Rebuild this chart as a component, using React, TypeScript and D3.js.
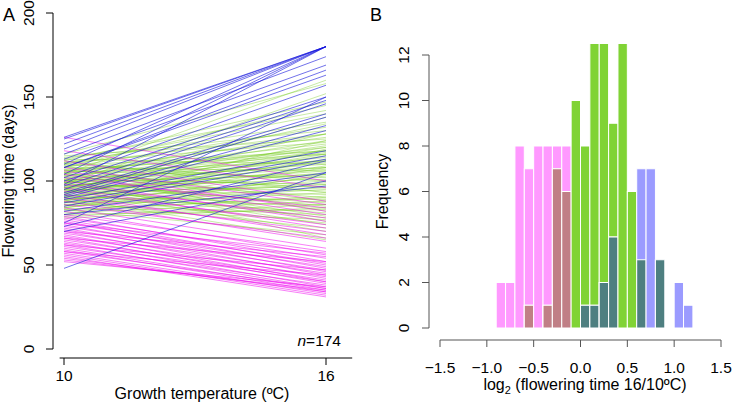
import * as d3 from "d3";

// Panel A: flowering time (days) at 10ºC and 16ºC, one pair per accession
const greenLines: [number, number][] = [
  [116, 158], [98, 152], [112, 147], [104, 160], [110, 140], [92, 138], [108, 145], [101, 134], [114, 130], [95, 128],
  [106, 126], [88, 124], [111, 123], [99, 121], [103, 120], [85, 119], [109, 118], [96, 117], [107, 116], [93, 115],
  [100, 114], [90, 113], [105, 112], [97, 111], [113, 110], [87, 109], [102, 108], [94, 107], [108, 106], [91, 105],
  [99, 104], [84, 103], [106, 102], [96, 101], [110, 100], [89, 99], [101, 98], [93, 97], [104, 96], [86, 95],
  [98, 94], [112, 93], [95, 92], [82, 91], [103, 90], [90, 89], [107, 88], [97, 87], [88, 86], [100, 85],
  [94, 84], [80, 83], [109, 82], [92, 81], [86, 80], [102, 79], [96, 78], [84, 77], [105, 76], [91, 75],
  [99, 74], [88, 72], [95, 70], [83, 68], [101, 66], [90, 65], [115, 125], [111, 135], [106, 118], [100, 112],
  [97, 108], [94, 104], [91, 100], [89, 98], [87, 96], [85, 93], [83, 90], [81, 88], [79, 86], [78, 84],
  [113, 142], [108, 132], [104, 128], [100, 124], [96, 120], [92, 116], [88, 112], [84, 108], [80, 104], [103, 116],
  [99, 110], [95, 106], [105, 122], [110, 128], [98, 118],
];

const pinkLines: [number, number][] = [
  [126, 100], [118, 96], [112, 88], [108, 86], [106, 82], [104, 80], [102, 84], [100, 76], [98, 78], [96, 72],
  [94, 74], [92, 68], [90, 70], [88, 64], [86, 66], [84, 60], [82, 56], [80, 58], [79, 52], [78, 54],
  [77, 50], [76, 48], [75, 51], [74, 46], [73, 49], [72, 44], [71, 47], [70, 42], [69, 45], [68, 40],
  [67, 43], [66, 39], [65, 41], [64, 37], [63, 40], [62, 36], [61, 38], [60, 35], [59, 34], [58, 36],
  [57, 33], [56, 32], [55, 31], [54, 34], [53, 35], [52, 37], [66, 52], [70, 55], [62, 47], [58, 44], [75, 57],
];

const blueLines: [number, number][] = [
  [126, 180], [125, 180], [122, 180], [119, 180], [116, 174], [113, 169], [110, 180], [108, 166], [108, 163], [104, 180],
  [102, 157], [100, 150], [98, 180], [97, 148], [95, 146], [93, 140], [92, 138], [91, 133], [90, 130], [89, 118],
  [87, 115], [85, 113], [82, 105], [80, 97], [75, 150], [73, 112], [70, 100], [48, 105],
];

const temps = [10, 16];
const yTicksA = [0, 50, 100, 150, 200];

// Panel B: histogram of log2(16/10ºC) per group
const binEdges = [-0.9, -0.8, -0.7, -0.6, -0.5, -0.4, -0.3, -0.2, -0.1, 0, 0.1, 0.2, 0.3, 0.4, 0.5, 0.6, 0.7, 0.8, 0.9, 1.0, 1.1, 1.2];
const pinkCounts = [2, 2, 8, 7, 8, 8, 8, 8, 0, 0, 0, 0, 0, 0, 0, 0, 0, 0, 0, 0, 0];
const greenCounts = [0, 0, 0, 1, 0, 1, 7, 6, 10, 8, 14, 13, 9, 14, 6, 3, 0, 3, 0, 0, 0];
const blueCounts = [0, 0, 0, 0, 0, 0, 0, 0, 0, 1, 1, 2, 4, 0, 0, 7, 7, 3, 0, 2, 1];
const xTicksB = [-1.5, -1.0, -0.5, 0.0, 0.5, 1.0, 1.5];
const yTicksB = [0, 2, 4, 6, 8, 10, 12];

const FONT = "'Liberation Sans', Arial, Helvetica, sans-serif";
const TICK = 15.5;
const TITLE = 16;

export default function App() {
  // ---- Panel A scales
  const xA = d3.scaleLinear().domain([10, 16]).range([64, 326]);
  const yA = d3.scaleLinear().domain([0, 200]).range([349, 13]);
  const axisXA = 358;
  const axisYA = 53;

  const line = (d: [number, number]) =>
    d3.line<number>().x((_, i) => xA(temps[i])).y((v) => v)(d.map((v) => yA(v)))!;

  // ---- Panel B scales
  const xB = d3.scaleLinear().domain([-1.5, 1.5]).range([440, 721]);
  const yB = d3.scaleLinear().domain([0, 12]).range([328, 55]);
  const axisXB = 340;
  const axisYB = 429;
  const yTop = yB(12.48);

  const pink = "#ff99ff";
  const green = "#80d335";
  const blue = "#9b9bff";
  const brown = "#c07f86";
  const teal = "#4e7f80";

  const bars: { x0: number; x1: number; h: number; fill: string }[] = [];
  binEdges.slice(0, -1).forEach((e, i) => {
    const x0 = e;
    const x1 = binEdges[i + 1];
    if (pinkCounts[i]) bars.push({ x0, x1, h: pinkCounts[i], fill: pink });
    if (greenCounts[i]) bars.push({ x0, x1, h: greenCounts[i], fill: green });
    if (blueCounts[i]) bars.push({ x0, x1, h: blueCounts[i], fill: blue });
    const pg = Math.min(pinkCounts[i], greenCounts[i]);
    if (pg) bars.push({ x0, x1, h: pg, fill: brown });
    const gb = Math.min(greenCounts[i], blueCounts[i]);
    if (gb) bars.push({ x0, x1, h: gb, fill: teal });
  });

  return (
    <svg
      width={734}
      height={404}
      style={{ position: "absolute", left: 0, top: 0, background: "#fff" }}
      fontFamily={FONT}
    >
      <defs>
        <clipPath id="clipB">
          <rect x={430} y={yTop} width={300} height={yB(0) - yTop + 1} />
        </clipPath>
      </defs>

      {/* ---------- Panel A ---------- */}
      <text x={3} y={21} fontSize={18}>A</text>

      <g fill="none" strokeWidth={1}>
        {greenLines.map((d, i) => (
          <path key={"g" + i} d={line(d)} stroke="rgba(110,200,20,0.38)" />
        ))}
        {pinkLines.map((d, i) => (
          <path key={"p" + i} d={line(d)} stroke="rgba(240,0,240,0.5)" />
        ))}
        {blueLines.map((d, i) => (
          <path key={"b" + i} d={line(d)} stroke="rgba(20,20,220,0.6)" />
        ))}
      </g>

      {/* y axis A */}
      <g stroke="#000" strokeWidth={1}>
        <line x1={axisYA} x2={axisYA} y1={yA(0)} y2={yA(200)} />
        {yTicksA.map((t) => (
          <line key={t} x1={axisYA - 7} x2={axisYA} y1={yA(t)} y2={yA(t)} />
        ))}
      </g>
      {yTicksA.map((t) => (
        <text
          key={t}
          transform={`translate(34,${yA(t)}) rotate(-90)`}
          textAnchor="middle"
          fontSize={TICK}
        >
          {t}
        </text>
      ))}
      <text transform={`translate(14,${yA(100)}) rotate(-90)`} textAnchor="middle" fontSize={TITLE}>
        Flowering time (days)
      </text>

      {/* x axis A */}
      <g stroke="#000" strokeWidth={1}>
        <line x1={xA(9.9)} x2={xA(16.6)} y1={axisXA} y2={axisXA} />
        {temps.map((t) => (
          <line key={t} x1={xA(t)} x2={xA(t)} y1={axisXA} y2={axisXA + 7} />
        ))}
      </g>
      {temps.map((t) => (
        <text key={t} x={xA(t)} y={381} textAnchor="middle" fontSize={TICK}>
          {t}
        </text>
      ))}
      <text x={202} y={399} textAnchor="middle" fontSize={TITLE}>
        Growth temperature (ºC)
      </text>
      <text x={341} y={346} textAnchor="end" fontSize={TICK}>
        <tspan fontStyle="italic">n</tspan>=174
      </text>

      {/* ---------- Panel B ---------- */}
      <text x={370} y={21} fontSize={18}>B</text>

      <g clipPath="url(#clipB)" stroke="#fff" strokeWidth={1}>
        {bars.map((b, i) => (
          <rect
            key={i}
            x={xB(b.x0)}
            y={yB(b.h)}
            width={xB(b.x1) - xB(b.x0)}
            height={yB(0) - yB(b.h)}
            fill={b.fill}
          />
        ))}
      </g>

      {/* y axis B */}
      <g stroke="#555" strokeWidth={1}>
        <line x1={axisYB} x2={axisYB} y1={yB(0)} y2={yB(12)} />
        {yTicksB.map((t) => (
          <line key={t} x1={axisYB - 7} x2={axisYB} y1={yB(t)} y2={yB(t)} />
        ))}
      </g>
      {yTicksB.map((t) => (
        <text
          key={t}
          transform={`translate(409,${yB(t)}) rotate(-90)`}
          textAnchor="middle"
          fontSize={TICK}
        >
          {t}
        </text>
      ))}
      <text transform={`translate(388,${yB(6)}) rotate(-90)`} textAnchor="middle" fontSize={TITLE}>
        Frequency
      </text>

      {/* x axis B */}
      <g stroke="#555" strokeWidth={1}>
        <line x1={xB(-1.5)} x2={xB(1.5)} y1={axisXB} y2={axisXB} />
        {xTicksB.map((t) => (
          <line key={t} x1={xB(t)} x2={xB(t)} y1={axisXB} y2={axisXB + 7} />
        ))}
      </g>
      {xTicksB.map((t) => (
        <text key={t} x={xB(t)} y={373} textAnchor="middle" fontSize={TICK}>
          {(t < 0 ? "\u2212" : "") + Math.abs(t).toFixed(1)}
        </text>
      ))}
      <text x={585} y={390} textAnchor="middle" fontSize={TITLE}>
        log
        <tspan fontSize={11} dy={4}>2</tspan>
        <tspan dy={-4}> (flowering time 16/10ºC)</tspan>
      </text>
    </svg>
  );
}
